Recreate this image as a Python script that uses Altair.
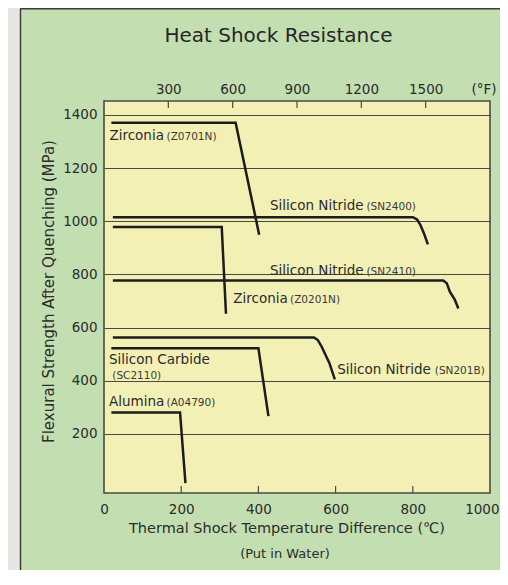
import altair as alt
import pandas as pd

# ---- data ----
# temperature difference (deg C) and flexural strength (MPa) per material
zr0701_x = [19, 341, 402]
zr0701_y = [1370, 1370, 949]
sn2400_x = [23, 800, 811, 820, 829, 839]
sn2400_y = [1015, 1015, 1007, 985, 954, 913]
zr0201_x = [23, 305, 316]
zr0201_y = [978, 978, 652]
sn2410_x = [23, 879, 888, 896, 909, 918]
sn2410_y = [777, 777, 767, 735, 704, 672]
sn201b_x = [23, 544, 554, 564, 584, 598]
sn201b_y = [563, 563, 553, 528, 466, 405]
sc2110_x = [19, 400, 426]
sc2110_y = [522, 522, 267]
a04790_x = [19, 197, 211]
a04790_y = [281, 281, 15]

series_names = ["Z0701N", "SN2400", "Z0201N", "SN2410", "SN201B", "SC2110", "A04790"]
series_x = [zr0701_x, sn2400_x, zr0201_x, sn2410_x, sn201b_x, sc2110_x, a04790_x]
series_y = [zr0701_y, sn2400_y, zr0201_y, sn2410_y, sn201b_y, sc2110_y, a04790_y]

label_main = ["Zirconia", "Silicon Nitride", "Silicon Nitride", "Zirconia",
              "Silicon Nitride", "Silicon Carbide", "Alumina"]
label_main_x = [14, 430, 430, 335, 604, 13, 13]
label_main_y = [1307, 1044, 799, 694, 424, 462, 305]
label_code = ["(Z0701N)", "(SN2400)", "(SN2410)", "(Z0201N)", "(SN201B)", "(SC2110)", "(A04790)"]
label_code_x = [162, 680, 680, 482, 857, 21.5, 162]
label_code_y = [1307, 1044, 799, 694, 424, 408, 305]

c_ticks = [0, 200, 400, 600, 800, 1000]
c_inner_ticks = [200, 400, 600, 800]
f_ticks = [300, 600, 900, 1200, 1500]
mpa_ticks = [200, 400, 600, 800, 1000, 1200, 1400]

# ---- styling ----
FONT = "DejaVu Sans"
TXT = "#2b2b2b"
LINE = "#1c1c1c"
GRID = "#4a4a42"
GREEN = "#c3dfb2"
YELLOW = "#f2f0b5"
GRAY = "#e8e6e3"
W, H = 386, 392

rows = []
for name, xs, ys in zip(series_names, series_x, series_y):
    for i, (xv, yv) in enumerate(zip(xs, ys)):
        rows.append({"s": name, "c": xv, "m": yv, "o": i})
lines_df = pd.DataFrame(rows)

main_lbl_df = pd.DataFrame({"c": label_main_x, "m": label_main_y, "t": label_main})
code_lbl_df = pd.DataFrame({"c": label_code_x, "m": label_code_y, "t": label_code})
cticks_df = pd.DataFrame({"c": c_inner_ticks})
fticks_df = pd.DataFrame({"f": f_ticks})
dummy = pd.DataFrame({"a": [0]})

xscale = alt.Scale(domain=[0, 1000], nice=False, zero=False)
yscale = alt.Scale(domain=[-22, 1452], nice=False, zero=False)

xaxis = alt.Axis(orient="bottom", values=c_ticks, format="d", grid=False, ticks=False,
                 domain=False, labelPadding=9, labelFontSize=13.5, labelFont=FONT,
                 labelColor=TXT, labelFlush=False,
                 labelAlign={"condition": {"test": "datum.value >= 1000", "value": "right"},
                             "value": "center"},
                 labelOffset={"condition": {"test": "datum.value >= 1000", "value": 9},
                              "value": 0},
                 title="Thermal Shock Temperature Difference (℃)", titleFont=FONT,
                 titleFontSize=14.5, titleFontWeight="normal", titleColor=TXT,
                 titleX=182.5, titleY=39.5, titleAlign="center", titleBaseline="alphabetic")
yaxis = alt.Axis(values=mpa_ticks, format="d", grid=True, gridColor=GRID, gridWidth=1,
                 ticks=False, domain=False, labelPadding=7, labelFontSize=13.5,
                 labelFont=FONT, labelColor=TXT,
                 title="Flexural Strength After Quenching (MPa)", titleFont=FONT,
                 titleFontSize=15, titleFontWeight="normal", titleColor=TXT,
                 titleAngle=270, titleX=-50.5, titleY=190, titleAlign="center",
                 titleBaseline="alphabetic")

X = alt.X("c:Q", scale=xscale, axis=xaxis)
Y = alt.Y("m:Q", scale=yscale, axis=yaxis)

strip = alt.Chart(dummy).mark_rect(color=GRAY).encode(
    x=alt.value(-96), x2=alt.value(-84), y=alt.value(-93), y2=alt.value(H + 80))
border_left = alt.Chart(dummy).mark_rule(color="#3d3d39", strokeWidth=1.5).encode(
    x=alt.value(-83.5), y=alt.value(-92), y2=alt.value(H + 80))
border_top = alt.Chart(dummy).mark_rule(color="#3d3d39", strokeWidth=1.5).encode(
    x=alt.value(-84), x2=alt.value(W + 20), y=alt.value(-92.2))

title_txt = alt.Chart(dummy).mark_text(
    align="center", baseline="alphabetic", font=FONT, fontSize=20, color="#262626",
    text="Heat Shock Resistance").encode(x=alt.value(174.5), y=alt.value(-59))

lines = alt.Chart(lines_df).mark_line(color=LINE, strokeWidth=2.5, strokeJoin="miter",
                                      strokeCap="butt").encode(
    x=X, y=Y, detail="s:N", order="o:Q")

bottom_ticks = alt.Chart(cticks_df).mark_rule(color=GRID, strokeWidth=1.2).encode(
    x=X, y=alt.value(H), y2=alt.value(H - 7))

main_labels = alt.Chart(main_lbl_df).mark_text(
    align="left", baseline="alphabetic", font=FONT, fontSize=13.5, color=TXT).encode(
    x=X, y=Y, text="t:N")
code_labels = alt.Chart(code_lbl_df).mark_text(
    align="left", baseline="alphabetic", font=FONT, fontSize=10.5, color="#3a3a3a").encode(
    x=X, y=Y, text="t:N")

f_unit = alt.Chart(dummy).mark_text(
    align="center", baseline="middle", font=FONT, fontSize=13.5, color=TXT,
    text="(°F)").encode(x=alt.value(380), y=alt.value(-11))
subtitle = alt.Chart(dummy).mark_text(
    align="center", baseline="middle", font=FONT, fontSize=13, color=TXT,
    text="(Put in Water)").encode(x=alt.value(181), y=alt.value(453))

main = alt.layer(strip, border_left, border_top, title_txt, lines, bottom_ticks,
                 main_labels, code_labels, f_unit, subtitle)

top = alt.Chart(fticks_df).mark_rule(color=GRID, strokeWidth=1.2).encode(
    x=alt.X("f:Q", scale=alt.Scale(domain=[0, 1800], nice=False, zero=False),
            axis=alt.Axis(orient="top", values=f_ticks, format="d", grid=False,
                          ticks=False, domain=False, labelPadding=5, labelFontSize=13.5,
                          labelFont=FONT, labelColor=TXT, labelFlush=False, title=None)),
    y=alt.value(0), y2=alt.value(7))

chart = alt.layer(main, top).resolve_scale(x="independent").properties(
    width=W, height=H,
    autosize=alt.AutoSizeParams(type="none"),
    padding={"left": 96, "top": 93, "right": 10, "bottom": 77},
    background=GREEN,
).configure_view(fill=YELLOW, stroke="#4b4b43", strokeWidth=1.6)

chart.save("out.html", embed_options={"renderer": "svg", "actions": False})
